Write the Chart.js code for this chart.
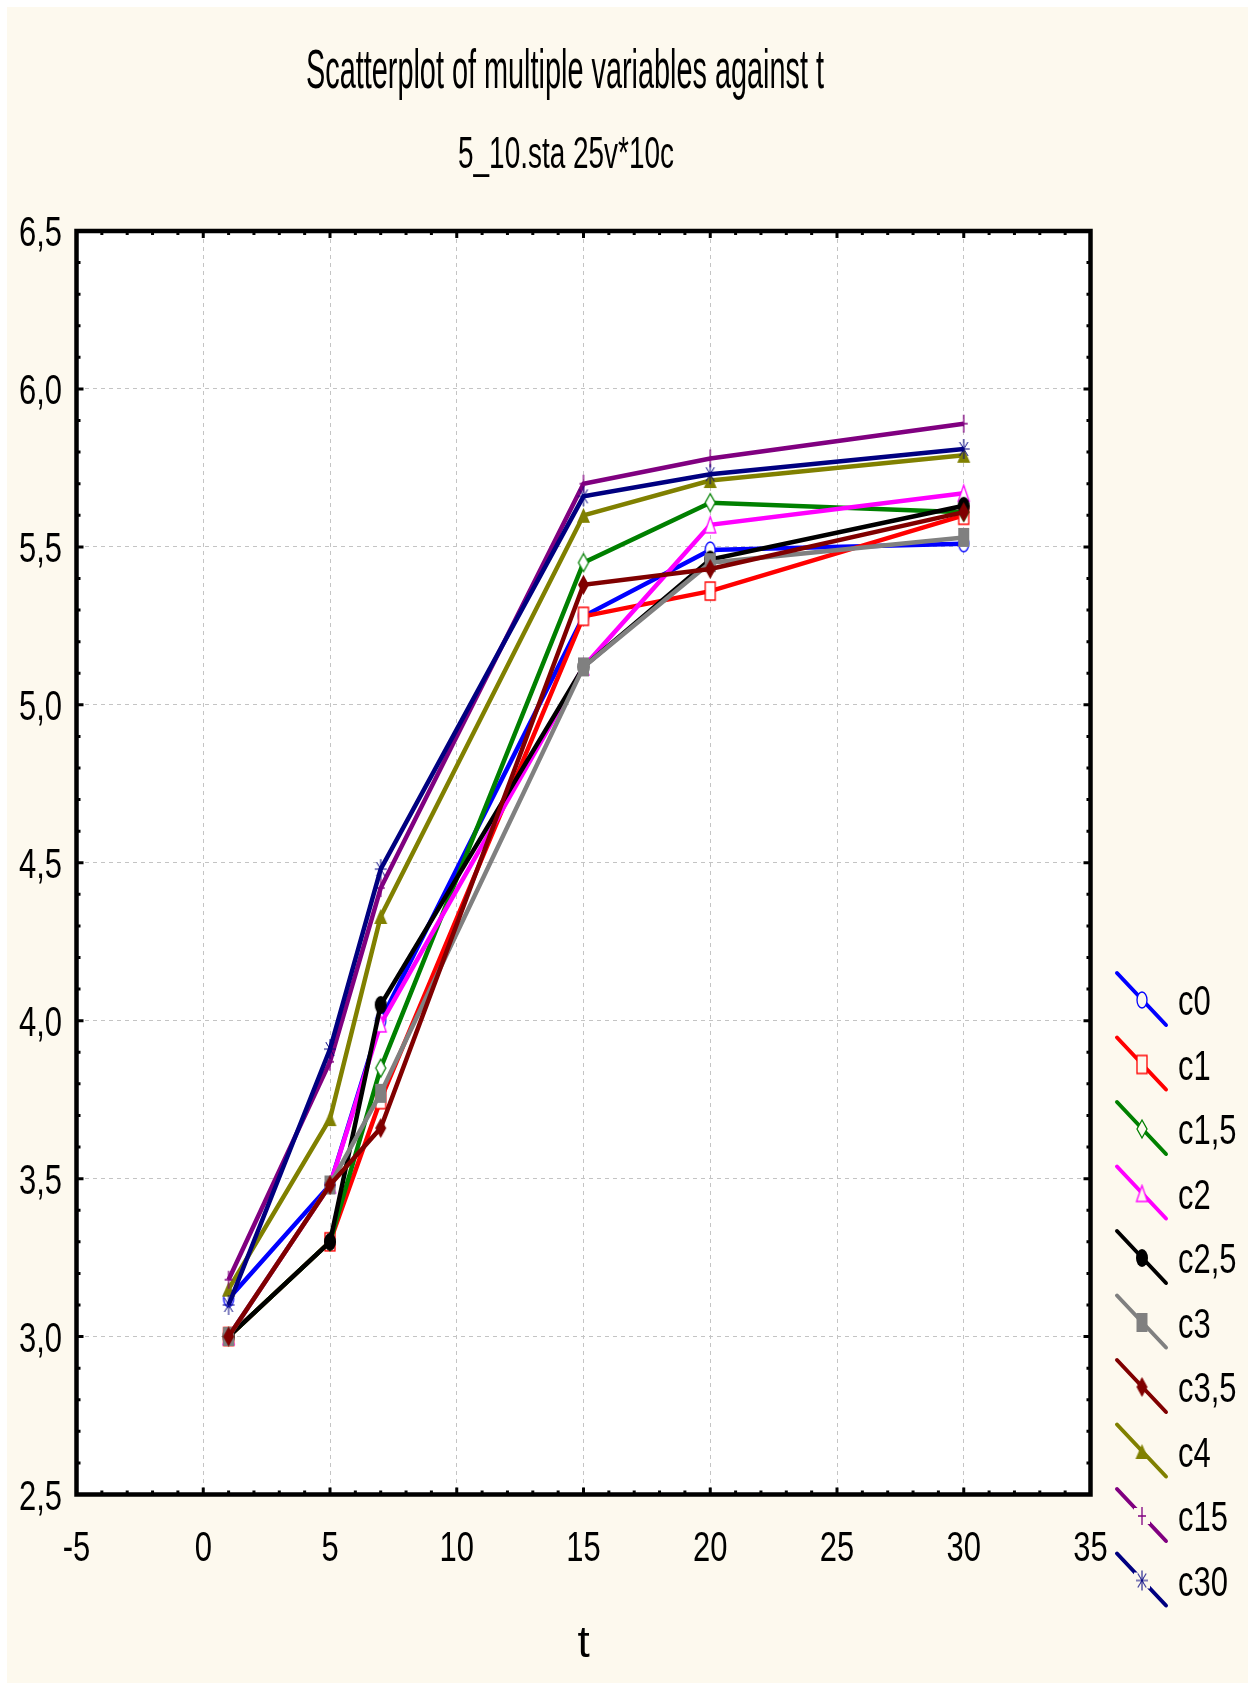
<!DOCTYPE html>
<html>
<head>
<meta charset="utf-8">
<title>Scatterplot of multiple variables against t</title>
<script src="https://cdn.jsdelivr.net/npm/chart.js@4.4.1/dist/chart.umd.min.js"></script>
<style>
    html, body { margin: 0; padding: 0; background: #ffffff; }
    #wrap { width: 1251px; height: 1686px; }
</style>
</head>
<body>
<div id="wrap"><canvas id="chart" width="1251" height="1686"></canvas></div>
<script>
// Data
const tValues = [1, 5, 7, 15, 20, 30];

const c0 = [3.12, 3.48, 4.00, 5.28, 5.49, 5.51];
const c1 = [3.00, 3.30, 3.75, 5.28, 5.36, 5.60];
const c1_5 = [3.00, 3.30, 3.85, 5.45, 5.64, 5.61];
const c2 = [3.00, 3.48, 3.99, 5.12, 5.57, 5.67];
const c2_5 = [3.00, 3.30, 4.05, 5.12, 5.46, 5.63];
const c3 = [3.00, 3.48, 3.77, 5.12, 5.45, 5.53];
const c3_5 = [3.00, 3.48, 3.66, 5.38, 5.43, 5.61];
const c4 = [3.15, 3.69, 4.33, 5.60, 5.71, 5.79];
const c15 = [3.18, 3.87, 4.42, 5.70, 5.78, 5.89];
const c30 = [3.10, 3.91, 4.48, 5.66, 5.73, 5.81];

const seriesNames = ['c0', 'c1', 'c1,5', 'c2', 'c2,5', 'c3', 'c3,5', 'c4', 'c15', 'c30'];
const seriesValues = [c0, c1, c1_5, c2, c2_5, c3, c3_5, c4, c15, c30];

const titleText = 'Scatterplot of multiple variables against t';
const subtitleText = '5_10.sta 25v*10c';
const xAxisTitle = 't';

const xMin = -5, xMax = 35, xStep = 5;
const yMin = 2.5, yMax = 6.5, yStep = 0.5;

// Styles
const colors = ['#0000ff', '#ff0000', '#008000', '#ff00ff', '#000000',
                '#808080', '#800000', '#808000', '#800080', '#000080'];
const markers = [
    { shape: 'circle', filled: false, w: 10, h: 16 },
    { shape: 'rect', filled: false, w: 10, h: 18 },
    { shape: 'diamond', filled: false, w: 10, h: 18 },
    { shape: 'triangle', filled: false, w: 11, h: 16 },
    { shape: 'circle', filled: true, w: 12, h: 18 },
    { shape: 'rect', filled: true, w: 11, h: 19 },
    { shape: 'diamond', filled: true, w: 11, h: 20 },
    { shape: 'triangle', filled: true, w: 13, h: 15 },
    { shape: 'cross', filled: false, w: 8, h: 18 },
    { shape: 'star', filled: false, w: 12, h: 20 }
];

const FONT = '"Liberation Sans", Arial, sans-serif';
const SQUEEZE = 0.72; // the reference text is narrow
const CREAM = '#fdf9ee';

// Plot frame in pixels
const AREA = { left: 76.5, right: 1090.5, top: 231, bottom: 1494.5 };

const yLabel = (v) => v.toFixed(1).replace('.', ',');

function makeMarker(m, color, bg) {
    const pad = 2;
    const c = document.createElement('canvas');
    c.width = m.w + pad * 2;
    c.height = m.h + pad * 2;
    const g = c.getContext('2d');
    const rx = m.w / 2, ry = m.h / 2;
    g.translate(c.width / 2, c.height / 2);
    g.strokeStyle = color;
    g.fillStyle = m.filled ? color : bg;
    g.lineWidth = 1.3;
    g.beginPath();
    if (m.shape === 'circle') {
        g.ellipse(0, 0, rx, ry, 0, 0, Math.PI * 2);
    } else if (m.shape === 'rect') {
        g.rect(-rx, -ry, m.w, m.h);
    } else if (m.shape === 'diamond') {
        g.moveTo(0, -ry); g.lineTo(rx, 0); g.lineTo(0, ry); g.lineTo(-rx, 0); g.closePath();
    } else if (m.shape === 'triangle') {
        g.moveTo(0, -ry); g.lineTo(rx, ry); g.lineTo(-rx, ry); g.closePath();
    } else if (m.shape === 'cross') {
        g.moveTo(0, -ry); g.lineTo(0, ry);
        g.moveTo(-rx, 0); g.lineTo(rx, 0);
        g.stroke();
        return c;
    } else if (m.shape === 'star') {
        g.moveTo(0, -ry); g.lineTo(0, ry);
        g.moveTo(-rx, 0); g.lineTo(rx, 0);
        g.moveTo(-rx * 0.7, -ry * 0.7); g.lineTo(rx * 0.7, ry * 0.7);
        g.moveTo(rx * 0.7, -ry * 0.7); g.lineTo(-rx * 0.7, ry * 0.7);
        g.lineWidth = 1;
        g.stroke();
        return c;
    }
    g.fill();
    if (!m.filled) g.stroke();
    return c;
}

// narrow text helper: x is the anchor for the given alignment
function narrowText(ctx, text, size, x, y, align, sx) {
    ctx.save();
    ctx.font = size + 'px ' + FONT;
    ctx.textAlign = align;
    ctx.translate(x, y);
    ctx.scale(sx, 1);
    ctx.fillText(text, 0, 0);
    ctx.restore();
}

// Background, titles, frame, inner ticks, tick labels and legend
const decorations = {
    id: 'decorations',
    beforeDraw(chart) {
        const ctx = chart.ctx;
        const a = chart.chartArea;
        ctx.save();
        ctx.fillStyle = '#ffffff';
        ctx.fillRect(0, 0, chart.width, chart.height);
        ctx.fillStyle = CREAM;
        ctx.fillRect(7, 7, chart.width - 10, chart.height - 10);
        ctx.fillStyle = '#ffffff';
        ctx.fillRect(a.left, a.top, a.right - a.left, a.bottom - a.top);
        ctx.restore();
    },
    afterDraw(chart) {
        const ctx = chart.ctx;
        const a = chart.chartArea;
        const xs = chart.scales.x, ys = chart.scales.y;
        ctx.save();
        ctx.fillStyle = '#000000';
        ctx.textBaseline = 'alphabetic';

        // Titles
        ctx.font = '56px ' + FONT;
        narrowText(ctx, titleText, 56, 565, 88, 'center', 518 / ctx.measureText(titleText).width);
        ctx.font = '44px ' + FONT;
        narrowText(ctx, subtitleText, 44, 566, 168, 'center', 216 / ctx.measureText(subtitleText).width);

        // Tick labels from the library's ticks
        xs.ticks.forEach(t => {
            narrowText(ctx, String(t.value), 43, xs.getPixelForValue(t.value), 1561, 'center', SQUEEZE);
        });
        ys.ticks.forEach(t => {
            narrowText(ctx, yLabel(t.value), 43, 62, ys.getPixelForValue(t.value) + 15, 'right', SQUEEZE);
        });

        // Inner tick marks
        ctx.strokeStyle = '#000000';
        ctx.lineWidth = 3;
        ctx.beginPath();
        for (let v = xMin; v <= xMax; v++) {
            const px = xs.getPixelForValue(v);
            const len = v % 5 === 0 ? 7 : 4;
            ctx.moveTo(px, a.bottom); ctx.lineTo(px, a.bottom - len);
            ctx.moveTo(px, a.top); ctx.lineTo(px, a.top + len);
        }
        for (let i = 0; i <= 40; i++) {
            const v = yMin + i * 0.1;
            const py = ys.getPixelForValue(v);
            const len = i % 5 === 0 ? 7 : 4;
            ctx.moveTo(a.left, py); ctx.lineTo(a.left + len, py);
            ctx.moveTo(a.right, py); ctx.lineTo(a.right - len, py);
        }
        ctx.stroke();

        // Frame
        ctx.lineWidth = 4.5;
        ctx.strokeRect(a.left, a.top, a.right - a.left, a.bottom - a.top);

        // Legend
        const lx = 1142, ly0 = 1000, lstep = 64.5;
        chart.data.datasets.forEach((ds, i) => {
            const cy = ly0 + i * lstep;
            ctx.strokeStyle = ds.borderColor;
            ctx.lineWidth = 4;
            ctx.lineCap = 'round';
            ctx.beginPath();
            ctx.moveTo(lx - 25, cy - 27);
            ctx.lineTo(lx + 24, cy + 25);
            ctx.stroke();
            const m = markers[i];
            if (m.shape === 'cross' || m.shape === 'star') {
                ctx.fillStyle = CREAM;
                ctx.fillRect(lx - 8, cy - 8, 16, 16);
            }
            const img = makeMarker(m, ds.borderColor, CREAM);
            ctx.drawImage(img, lx - img.width / 2, cy - img.height / 2);

            ctx.fillStyle = '#000000';
            narrowText(ctx, ds.label, 43, 1178, cy + 15, 'left', SQUEEZE);
        });

        ctx.restore();
    }
};

function buildChart() {
    const datasets = seriesValues.map((values, i) => ({
        label: seriesNames[i],
        data: tValues.map((t, k) => ({ x: t, y: values[k] })),
        showLine: true,
        borderColor: colors[i],
        backgroundColor: colors[i],
        borderWidth: 4.5,
        pointStyle: makeMarker(markers[i], colors[i], '#ffffff'),
        pointRadius: 8,
        tension: 0,
        order: -i
    }));

    new Chart(document.getElementById('chart'), {
        type: 'scatter',
        data: { datasets },
        options: {
            responsive: false,
            animation: false,
            devicePixelRatio: 1,
            layout: {
                padding: { left: 0, top: AREA.top, right: 1251 - AREA.right, bottom: 0 }
            },
            plugins: {
                legend: { display: false },
                title: { display: false },
                tooltip: { enabled: false }
            },
            scales: {
                x: {
                    type: 'linear',
                    min: xMin,
                    max: xMax,
                    ticks: { stepSize: xStep, display: false },
                    grid: { color: '#c4c4c4', lineWidth: 1, drawTicks: false },
                    border: { display: false, dash: [4, 4] },
                    title: {
                        display: true,
                        text: xAxisTitle,
                        color: '#000000',
                        padding: { top: 0, bottom: 15 },
                        font: { family: FONT, size: 44 }
                    },
                    afterFit: (scale) => { scale.height = 1686 - AREA.bottom; }
                },
                y: {
                    type: 'linear',
                    min: yMin,
                    max: yMax,
                    ticks: { stepSize: yStep, display: false },
                    grid: { color: '#c4c4c4', lineWidth: 1, drawTicks: false },
                    border: { display: false, dash: [4, 4] },
                    afterFit: (scale) => { scale.width = AREA.left; }
                }
            }
        },
        plugins: [decorations]
    });
}

document.fonts.load('43px "Liberation Sans"').then(buildChart, buildChart);
</script>
</body>
</html>
